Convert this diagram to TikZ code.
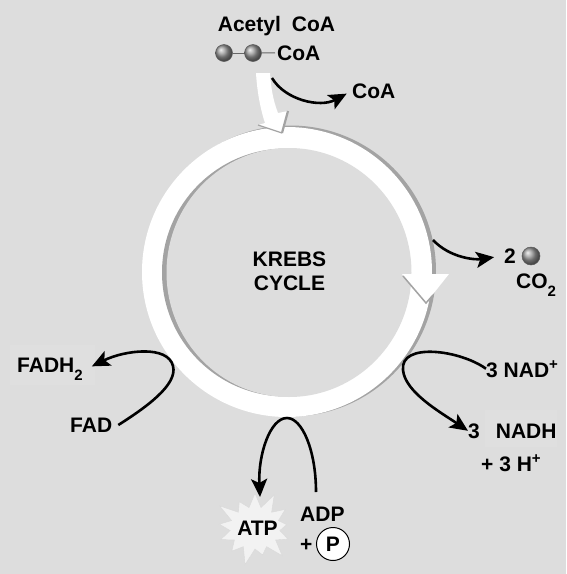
\documentclass[tikz,border=0pt]{standalone}
\usepackage{fontspec}
\setmainfont{Liberation Sans}
\usetikzlibrary{arrows.meta,shapes.symbols}
\definecolor{bgray}{gray}{0.865}
\definecolor{bglow}{gray}{0.873}
\definecolor{ringgray}{gray}{0.64}
\newcommand{\lowtwo}{\raisebox{-8pt}{\fontsize{15}{16}\selectfont 2}}
\newcommand{\highplus}{\raisebox{8pt}{\fontsize{15}{16}\selectfont +}}
\tikzset{
  lbl/.style={font=\bfseries\fontsize{21}{24}\selectfont, inner sep=0pt},
  curved/.style={line width=2.6pt, -{Stealth[length=18pt,width=16pt,inset=4pt]}},
  ball/.style={circle, draw=black!65, line width=0.5pt, minimum size=17pt, inner sep=0pt, ball color=black!40}
}
\begin{document}
\begin{tikzpicture}[x=1pt, y=-1pt]
  \useasboundingbox (0,0) rectangle (566,574);
  \fill[bgray] (0,0) rectangle (566,574);
  \fill[bglow] (10,345) rectangle (95,385);
  \fill[bglow] (485,410) rectangle (557,447);
  % the ring with its shades
  \fill[ringgray] (290.5,271) circle (145.5);
  \fill[white] (287,272) circle (145);
  \fill[ringgray] (286,272.5) circle (124);
  \fill[bgray] (289,272.5) ellipse (122.5 and 124.5);
  % the arrow coming in
  \fill[white] (256,73) .. controls (257,90) and (260,108) .. (265,123) -- (258,125)
    -- (282,133) -- (288,111) -- (278,113) .. controls (273,100) and (271,88) .. (270,73) -- cycle;
  \draw[ringgray, line width=1.2pt] (258,125) -- (282,133);
  \draw[ringgray, line width=2.2pt] (282,133) -- (288,111);
  % the arrow on the right
  \fill[white] (402,274) -- (449,274) -- (426,303) -- cycle;
  \draw[ringgray, line width=1.5pt] (403,276) -- (426,303) -- (433,295);
  % the texts
  \node[lbl, anchor=base] (acetyl) at (276.5,31) {Acetyl\hspace{11pt}CoA};
  \node[ball] (ballA) at (224,53) {};
  \node[ball] (ballB) at (253,53) {};
  \node[lbl, anchor=base west] (coaA) at (277,60) {CoA};
  \node[lbl, anchor=base west] (coaB) at (352,98) {CoA};
  \node[lbl, anchor=base, align=center] (krebs) at (289.5,290) {KREBS\\CYCLE};
  \node[lbl, anchor=base west] (two) at (504,263) {2};
  \node[ball, minimum size=18pt] (ballC) at (531,256) {};
  \node[lbl, anchor=base west] (co) at (516,288) {CO\lowtwo};
  \node[lbl, anchor=base west] (nad) at (486,377) {3 NAD\highplus};
  \node[lbl, anchor=base west] (nadh) at (468,438) {3\hspace{16pt}NADH};
  \node[lbl, anchor=base west] (hplus) at (481,471) {+ 3 H\highplus};
  \node[lbl, anchor=base west] (fadh) at (17,372) {FADH\lowtwo};
  \node[lbl, anchor=base west] (fad) at (70,432) {FAD};
  \node[starburst, starburst points=13, starburst point height=19pt, fill=black!5, draw=black!15,
    minimum width=88pt, minimum height=80pt, inner sep=0pt] (burst) at (255,528) {};
  \node[lbl, anchor=base] (atp) at (257.5,535) {ATP};
  \node[lbl, anchor=base west] (adp) at (300,521) {ADP};
  \node[lbl, anchor=base west] (plus) at (300,551) {+};
  \node[circle, draw, fill=white, line width=1pt, minimum size=33pt, lbl] (pcirc) at (333,544) {P};
  % the free ends
  \coordinate (outA) at (272,78);
  \coordinate (outB) at (433,240);
  \coordinate (adpS) at (316,492);
  % the connectors
  \draw[black!60, line width=1pt] (ballA) -- (ballB);
  \draw[black!60, line width=1pt, shorten >=2pt] (ballB) -- (coaA.west);
  \draw[curved, shorten >=6pt] (outA) .. controls (285,100) and (320,108) .. (coaB.west);
  \draw[curved, shorten >=10pt] (outB) .. controls (450,258) and (475,260) .. (two.west);
  \draw[curved] (nad.west) .. controls (460,350) and (400,342) .. (403,370) .. controls (405,392) and (440,412) .. (nadh.west);
  \draw[curved, shorten <=7pt, shorten >=10pt] ([yshift=-4pt]fad.east) .. controls (145,408) and (178,385) .. (173,366) .. controls (168,345) and (125,350) .. ([yshift=-2pt]fadh.east);
  \draw[curved] (adpS) .. controls (316,450) and (302,418) .. (287,418) .. controls (270,418) and (258,455) .. (260,497);
\end{tikzpicture}
\end{document}
